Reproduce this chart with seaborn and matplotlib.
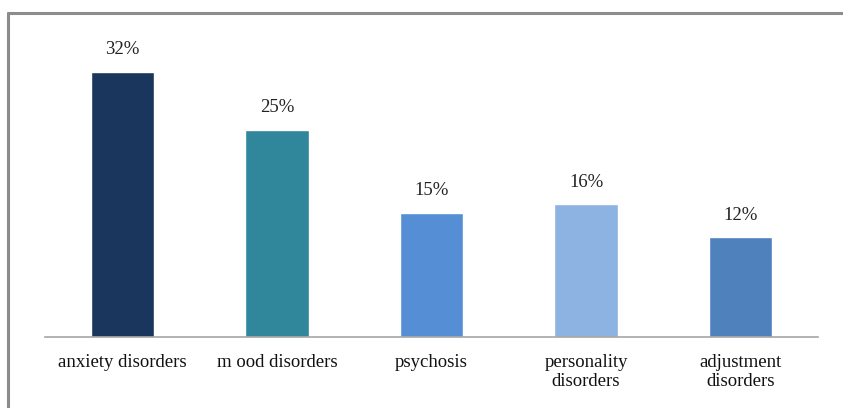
import matplotlib
matplotlib.use("Agg")
import matplotlib.pyplot as plt
import seaborn as sns
import pandas as pd
from matplotlib.lines import Line2D

sns.set_style("white")
plt.rcParams['font.family'] = ['Liberation Serif', 'DejaVu Serif']

categories = ["anxiety disorders", "m ood disorders", "psychosis",
              "personality\ndisorders", "adjustment\ndisorders"]
values = [32, 25, 15, 16, 12]
colors = ["#1a365c", "#30869b", "#558ed5", "#8db3e2", "#4f81bd"]

df = pd.DataFrame({"category": categories, "value": values})

fig = plt.figure(figsize=(8.43, 4.08), dpi=100)
ax = fig.add_axes([45 / 843, 1 - 337 / 408, (818 - 45) / 843, (337 - 40) / 408])

sns.barplot(data=df, x="category", y="value", hue="category", palette=colors,
            legend=False, width=0.41, saturation=1, ax=ax)

for i, v in enumerate(values):
    ax.text(i, v + 1.6, f"{v}%", ha="center", va="bottom", fontsize=13.5, color="#222222")

ax.set_ylim(0, 35.8)
ax.set_xlim(-0.5, 4.5)
ax.set_xlabel("")
ax.set_ylabel("")
ax.set_yticks([])
ax.tick_params(axis="x", length=0, labelsize=13.5, pad=12, colors="#111111")
for s in ["top", "right", "left"]:
    ax.spines[s].set_visible(False)
ax.spines["bottom"].set_color("#a6a6a6")
ax.spines["bottom"].set_linewidth(1.2)

# outer frame (top and left edges visible)
fig.add_artist(Line2D([8 / 843, 8 / 843], [0, 1 - 13 / 408], color="#8c8c8c", lw=2.2,
                      transform=fig.transFigure))
fig.add_artist(Line2D([8 / 843, 1], [1 - 13 / 408, 1 - 13 / 408], color="#8c8c8c", lw=2.2,
                      transform=fig.transFigure))

fig.savefig("out.png", dpi=100)
